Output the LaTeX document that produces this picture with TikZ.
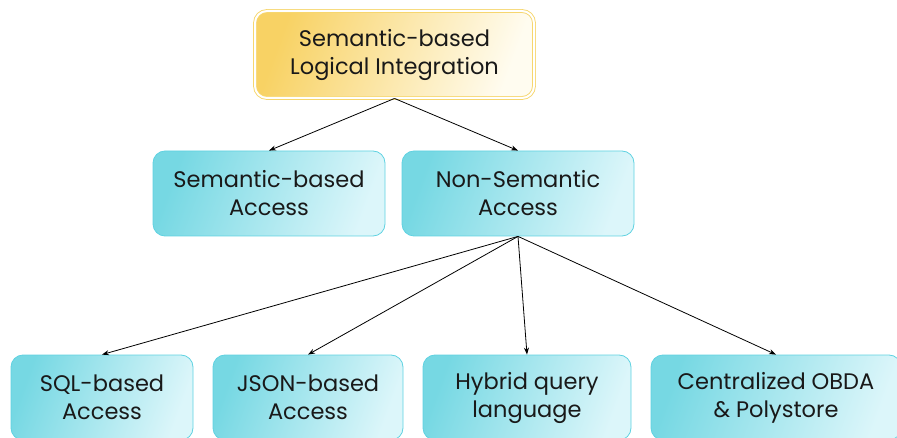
\documentclass[tikz,border=0pt]{standalone}
\usepackage{fontspec}
\setmainfont{Poppins}
\usetikzlibrary{arrows.meta}
\definecolor{goldL}{RGB}{248,210,100}
\definecolor{goldR}{RGB}{255,252,240}
\definecolor{goldB}{RGB}{246,214,110}
\definecolor{cyanL}{RGB}{118,216,227}
\definecolor{cyanR}{RGB}{220,246,250}
\definecolor{cyanB}{RGB}{95,210,225}
\tikzset{
  box/.style={rounded corners=12pt, align=center, inner sep=0pt,
    font=\fontsize{22.5}{28}\selectfont, text=black!90},
  cyanbox/.style={box, draw=cyanB, line width=0.8pt,
    left color=cyanL, right color=cyanR, shading angle=70},
  goldbox/.style={box, draw=goldB, line width=0.9pt, double=white, double distance=2pt,
    left color=goldL, right color=goldR, shading angle=70},
  link/.style={-{Stealth[length=7pt,width=5pt]}, line width=0.8pt, black}
}
\begin{document}
\begin{tikzpicture}[x=1pt,y=-1pt]
  \useasboundingbox (0,0) rectangle (897,438);
  \clip (0,0) rectangle (897,438);
  \node[goldbox, minimum width=279pt, minimum height=87pt] (root) at (394.5,54.5)
    {Semantic-based\\Logical Integration};
  \node[cyanbox, minimum width=232pt, minimum height=85pt] (sem) at (269,193.5)
    {Semantic-based\\Access};
  \node[cyanbox, minimum width=232pt, minimum height=85pt] (nonsem) at (518,193.5)
    {Non-Semantic\\Access};
  \node[cyanbox, minimum width=182pt, minimum height=85pt] (sql) at (102,397.5)
    {SQL-based\\Access};
  \node[cyanbox, minimum width=190pt, minimum height=85pt] (json) at (308,397.5)
    {JSON-based\\Access};
  \node[cyanbox, minimum width=208pt, minimum height=85pt] (hybrid) at (527,397.5)
    {Hybrid query\\language};
  \node[cyanbox, minimum width=250pt, minimum height=85pt] (obda) at (776,397.5)
    {Centralized OBDA\\\& Polystore};
  \draw[link] (root.south) -- (sem.north);
  \draw[link] (root.south) -- (nonsem.north);
  \draw[link] (nonsem.south) -- (sql.north);
  \draw[link] (nonsem.south) -- (json.north);
  \draw[link] (nonsem.south) -- (hybrid.north);
  \draw[link] (nonsem.south) -- (obda.north);
\end{tikzpicture}
\end{document}
